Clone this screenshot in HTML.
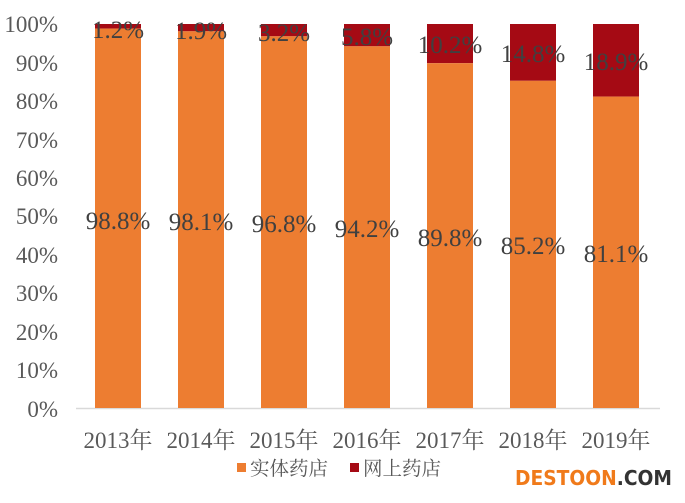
<!DOCTYPE html>
<html><head><meta charset="utf-8"><style>
body{margin:0;background:#fff;}
svg text{font-family:"Liberation Serif","Noto Serif CJK SC",serif;fill:#595959;}
.d{font-size:25px;fill:#404040;}
</style></head><body>
<svg width="685" height="498" xmlns="http://www.w3.org/2000/svg">
<line x1="76" y1="408.5" x2="660" y2="408.5" stroke="#d9d9d9" stroke-width="1.5"/>
<g font-size="23" text-anchor="end">
<text x="58" y="32">100%</text><text x="58" y="71">90%</text><text x="58" y="109">80%</text>
<text x="58" y="148">70%</text><text x="58" y="186">60%</text><text x="58" y="224">50%</text>
<text x="58" y="263">40%</text><text x="58" y="301">30%</text><text x="58" y="340">20%</text>
<text x="58" y="378">10%</text><text x="58" y="417">0%</text>
</g>
<g fill="#a50a14">
<rect x="95" y="24" width="46" height="4.6"/>
<rect x="178" y="24" width="46" height="7.3"/>
<rect x="261" y="24" width="46" height="12.3"/>
<rect x="344" y="24" width="46" height="22.3"/>
<rect x="427" y="24" width="46" height="39.2"/>
<rect x="510" y="24" width="46" height="56.8"/>
<rect x="593" y="24" width="46" height="72.6"/>
</g>
<g fill="#ed7d31">
<rect x="95" y="28.6" width="46" height="379.4"/>
<rect x="178" y="31.3" width="46" height="376.7"/>
<rect x="261" y="36.3" width="46" height="371.7"/>
<rect x="344" y="46.3" width="46" height="361.7"/>
<rect x="427" y="63.2" width="46" height="344.8"/>
<rect x="510" y="80.8" width="46" height="327.2"/>
<rect x="593" y="96.6" width="46" height="311.4"/>
</g>
<g text-anchor="middle">
<text class="d" x="118" y="229">98.8%</text><text class="d" x="118" y="38">1.2%</text>
<text class="d" x="201" y="230">98.1%</text><text class="d" x="201" y="39">1.9%</text>
<text class="d" x="284" y="232">96.8%</text><text class="d" x="284" y="41">3.2%</text>
<text class="d" x="367" y="237">94.2%</text><text class="d" x="367" y="45">5.8%</text>
<text class="d" x="450" y="246">89.8%</text><text class="d" x="450" y="53">10.2%</text>
<text class="d" x="533" y="254">85.2%</text><text class="d" x="533" y="62">14.8%</text>
<text class="d" x="616" y="262">81.1%</text><text class="d" x="616" y="70">18.9%</text>
</g>
<g font-size="23" text-anchor="middle">
<text x="118" y="448">2013年</text><text x="201" y="448">2014年</text><text x="284" y="448">2015年</text>
<text x="367" y="448">2016年</text><text x="450" y="448">2017年</text><text x="533" y="448">2018年</text>
<text x="616" y="448">2019年</text>
</g>
<rect x="237" y="463" width="9" height="9" fill="#ed7d31"/>
<text x="250" y="475" font-size="19.5">实体药店</text>
<rect x="350" y="463" width="9" height="9" fill="#a50a14"/>
<text x="363" y="475" font-size="19.5">网上药店</text>
<text x="515" y="485" font-size="20" font-weight="bold" textLength="157" lengthAdjust="spacingAndGlyphs" style="font-family:'DejaVu Sans',sans-serif;fill:#f07a1a">DESTOON<tspan style="fill:#333">.COM</tspan></text>
</svg>
</body></html>
